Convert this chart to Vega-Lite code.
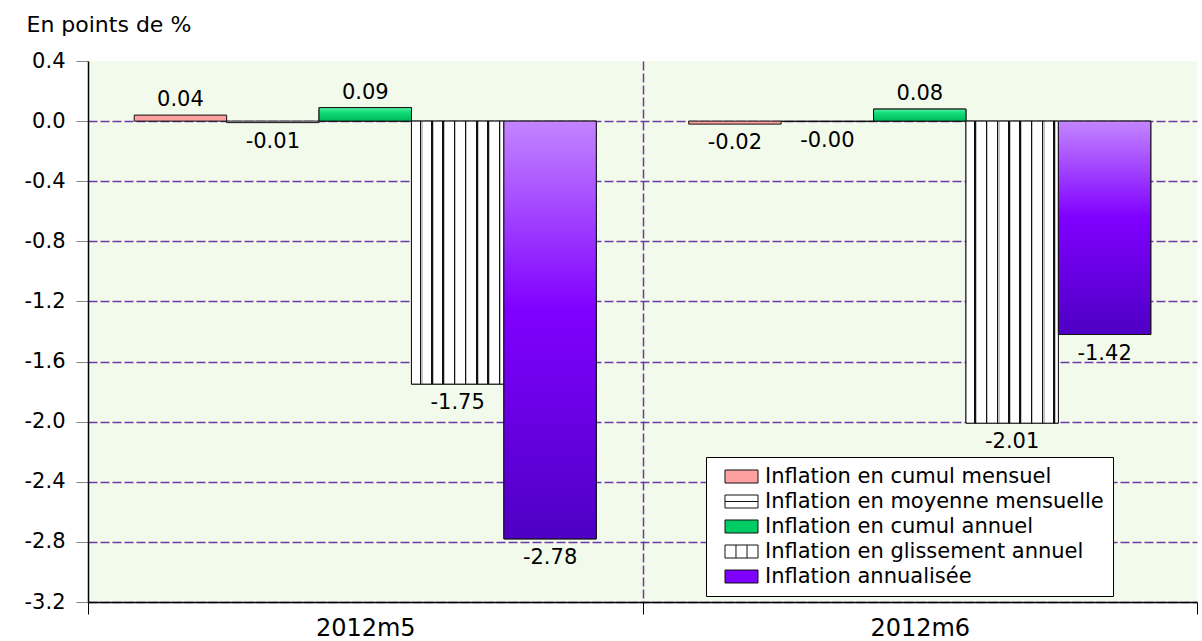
{
  "$schema": "https://vega.github.io/schema/vega-lite/v6.json",
  "width": 1109,
  "height": 541,
  "autosize": {"type": "none"},
  "padding": {"left": 88, "top": 61, "right": 5, "bottom": 39},
  "background": "white",
  "config": {
    "font": "DejaVu Sans",
    "view": {"fill": "#F2FAEB", "stroke": null}
  },
  "data": {
    "values": [
      {"period": "2012m5", "series": "Inflation en cumul mensuel", "value": 0.04, "label": "0.04"},
      {"period": "2012m5", "series": "Inflation en moyenne mensuelle", "value": -0.01, "label": "-0.01"},
      {"period": "2012m5", "series": "Inflation en cumul annuel", "value": 0.09, "label": "0.09"},
      {"period": "2012m5", "series": "Inflation en glissement annuel", "value": -1.75, "label": "-1.75"},
      {"period": "2012m5", "series": "Inflation annualisée", "value": -2.78, "label": "-2.78"},
      {"period": "2012m6", "series": "Inflation en cumul mensuel", "value": -0.02, "label": "-0.02"},
      {"period": "2012m6", "series": "Inflation en moyenne mensuelle", "value": -0.003, "label": "-0.00"},
      {"period": "2012m6", "series": "Inflation en cumul annuel", "value": 0.08, "label": "0.08"},
      {"period": "2012m6", "series": "Inflation en glissement annuel", "value": -2.01, "label": "-2.01"},
      {"period": "2012m6", "series": "Inflation annualisée", "value": -1.42, "label": "-1.42"}
    ]
  },
  "encoding": {
    "x": {
      "field": "period",
      "type": "nominal",
      "scale": {"paddingInner": 0, "paddingOuter": 0},
      "axis": {
        "title": null,
        "labelAngle": 0,
        "labelFontSize": 24,
        "labelColor": "black",
        "labelPadding": 2,
        "tickBand": "extent",
        "tickColor": "black",
        "tickSize": 12,
        "domainColor": "black",
        "domainWidth": 1.5,
        "grid": true,
        "gridColor": "#6A3AA8",
        "gridDash": [9, 3],
        "gridWidth": 1.5,
        "gridOpacity": {"condition": {"test": "datum.value === '2012m5'", "value": 1}, "value": 0}
      }
    },
    "xOffset": {
      "field": "series",
      "type": "nominal",
      "scale": {
        "domain": ["Inflation en cumul mensuel", "Inflation en moyenne mensuelle", "Inflation en cumul annuel", "Inflation en glissement annuel", "Inflation annualisée"],
        "paddingInner": 0,
        "paddingOuter": 0.5
      }
    },
    "y": {
      "field": "value",
      "type": "quantitative",
      "scale": {"domain": [-3.2, 0.4], "nice": false, "zero": false},
      "axis": {
        "values": [-3.2, -2.8, -2.4, -2.0, -1.6, -1.2, -0.8, -0.4, 0, 0.4],
        "labelExpr": "replace(format(datum.value, '.1f'), '\u2212', '-')",
        "labelFontSize": 21,
        "labelColor": "black",
        "labelPadding": 11,
        "tickColor": "#888888",
        "tickSize": 12,
        "domainColor": "black",
        "domainWidth": 1.5,
        "grid": true,
        "gridColor": "#6A3AA8",
        "gridDash": [9, 3],
        "gridWidth": 1.5,
        "gridOpacity": {"condition": {"test": "datum.value > 0.3", "value": 0}, "value": 1},
        "title": "En points de %",
        "titleAngle": 0,
        "titleAlign": "left",
        "titleBaseline": "alphabetic",
        "titleX": -62,
        "titleY": -30,
        "titleFontSize": 22,
        "titleFontWeight": "normal",
        "titleColor": "black"
      }
    }
  },
  "layer": [
    {
      "mark": {"type": "bar", "stroke": "#111111", "strokeWidth": 1},
      "encoding": {
        "color": {
          "field": "series",
          "type": "nominal",
          "scale": {
            "domain": ["Inflation en cumul mensuel", "Inflation en moyenne mensuelle", "Inflation en cumul annuel", "Inflation en glissement annuel", "Inflation annualisée"],
            "range": ["#FFA0A0", "#FFFFFF", "#00CC66", "#FFFFFF", "#7F00FF"]
          },
          "legend": {
            "title": null,
            "orient": "none",
            "legendX": 618,
            "legendY": 396,
            "symbolType": "M-2.54,-1H2.54V1H-2.54Z",
            "symbolSize": 169,
            "symbolStrokeColor": "#111111",
            "symbolStrokeWidth": 1,
            "symbolOffset": 16,
            "labelOffset": 13,
            "labelFontSize": 21,
            "labelColor": "black",
            "labelLimit": 600,
            "fillColor": "white",
            "strokeColor": "black",
            "padding": 9,
            "rowPadding": 3,
            "encode": {
              "symbols": {
                "update": {
                  "shape": {"signal": "datum.value === 'Inflation en moyenne mensuelle' ? 'M-2.54,-1H2.54V1H-2.54Z M-2.54,0H2.54' : datum.value === 'Inflation en glissement annuel' ? 'M-2.54,-1H2.54V1H-2.54Z M-0.85,-1V1 M0.85,-1V1' : 'M-2.54,-1H2.54V1H-2.54Z'"},
                  "opacity": {"value": 1}
                }
              }
            }
          }
        }
      }
    },
    {
      "transform": [{"filter": "datum.series === 'Inflation en cumul annuel'"}],
      "mark": {"type": "bar", "stroke": "#111111", "strokeWidth": 1,
        "fill": {"gradient": "linear", "x1": 0, "y1": 0, "x2": 0, "y2": 1, "stops": [
          {"offset": 0, "color": "#5AF0A2"}, {"offset": 0.35, "color": "#10DC78"}, {"offset": 1, "color": "#00B85A"}]}}
    },
    {
      "transform": [{"filter": "datum.series === 'Inflation en glissement annuel'"}],
      "mark": {"type": "bar", "stroke": "#111111", "strokeWidth": 1,
        "fill": {"gradient": "linear", "x1": 0, "y1": 0, "x2": 1, "y2": 0, "stops": [
          {"offset": 0, "color": "#ffffff"},
          {"offset": 0.092, "color": "#ffffff"}, {"offset": 0.092, "color": "#111111"}, {"offset": 0.108, "color": "#111111"}, {"offset": 0.108, "color": "#c4c4c4"}, {"offset": 0.12, "color": "#c4c4c4"}, {"offset": 0.12, "color": "#ffffff"},
          {"offset": 0.214, "color": "#ffffff"}, {"offset": 0.214, "color": "#111111"}, {"offset": 0.23, "color": "#111111"}, {"offset": 0.23, "color": "#c4c4c4"}, {"offset": 0.242, "color": "#c4c4c4"}, {"offset": 0.242, "color": "#ffffff"},
          {"offset": 0.335, "color": "#ffffff"}, {"offset": 0.335, "color": "#111111"}, {"offset": 0.351, "color": "#111111"}, {"offset": 0.351, "color": "#c4c4c4"}, {"offset": 0.363, "color": "#c4c4c4"}, {"offset": 0.363, "color": "#ffffff"},
          {"offset": 0.457, "color": "#ffffff"}, {"offset": 0.457, "color": "#111111"}, {"offset": 0.473, "color": "#111111"}, {"offset": 0.473, "color": "#c4c4c4"}, {"offset": 0.485, "color": "#c4c4c4"}, {"offset": 0.485, "color": "#ffffff"},
          {"offset": 0.578, "color": "#ffffff"}, {"offset": 0.578, "color": "#111111"}, {"offset": 0.594, "color": "#111111"}, {"offset": 0.594, "color": "#c4c4c4"}, {"offset": 0.606, "color": "#c4c4c4"}, {"offset": 0.606, "color": "#ffffff"},
          {"offset": 0.7, "color": "#ffffff"}, {"offset": 0.7, "color": "#111111"}, {"offset": 0.716, "color": "#111111"}, {"offset": 0.716, "color": "#c4c4c4"}, {"offset": 0.728, "color": "#c4c4c4"}, {"offset": 0.728, "color": "#ffffff"},
          {"offset": 0.822, "color": "#ffffff"}, {"offset": 0.822, "color": "#111111"}, {"offset": 0.838, "color": "#111111"}, {"offset": 0.838, "color": "#c4c4c4"}, {"offset": 0.85, "color": "#c4c4c4"}, {"offset": 0.85, "color": "#ffffff"},
          {"offset": 0.943, "color": "#ffffff"}, {"offset": 0.943, "color": "#111111"}, {"offset": 0.959, "color": "#111111"}, {"offset": 0.959, "color": "#c4c4c4"}, {"offset": 0.971, "color": "#c4c4c4"}, {"offset": 0.971, "color": "#ffffff"},
          {"offset": 1, "color": "#ffffff"}]}}
    },
    {
      "transform": [{"filter": "datum.series === 'Inflation annualisée'"}],
      "mark": {"type": "bar", "stroke": "#111111", "strokeWidth": 1,
        "fill": {"gradient": "linear", "x1": 0, "y1": 0, "x2": 0, "y2": 1, "stops": [
          {"offset": 0, "color": "#C385FF"}, {"offset": 0.45, "color": "#8000FF"}, {"offset": 1, "color": "#4E00C4"}]}}
    },
    {
      "transform": [{"filter": "datum.value >= 0"}],
      "mark": {"type": "text", "baseline": "alphabetic", "dy": -9, "fontSize": 21, "color": "black"},
      "encoding": {"text": {"field": "label", "type": "nominal"}}
    },
    {
      "transform": [{"filter": "datum.value < 0"}],
      "mark": {"type": "text", "baseline": "top", "dy": 8, "fontSize": 21, "color": "black"},
      "encoding": {"text": {"field": "label", "type": "nominal"}}
    }
  ]
}
